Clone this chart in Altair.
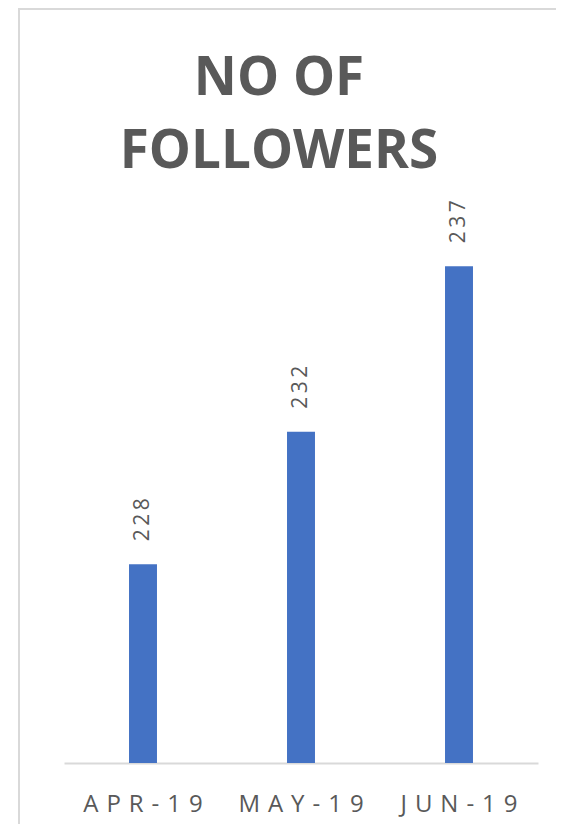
import altair as alt
import pandas as pd

months = ["APR-19", "MAY-19", "JUN-19"]
followers = [228, 232, 237]

Y_MIN, Y_MAX = 222, 238
BLUE = "#4472C4"
GREY = "#595959"
FRAME = "#D9D9D9"

df = pd.DataFrame({"month": months, "value": followers})

base = alt.Chart(df).encode(
    x=alt.X(
        "month:N",
        sort=months,
        title=None,
        scale=alt.Scale(paddingInner=0.823, paddingOuter=0.4115),
        axis=alt.Axis(
            labelAngle=0,
            labelFont="Open Sans",
            labelFontSize=24,
            labelColor=GREY,
            labelBaseline="alphabetic",
            labelPadding=48,
            ticks=False,
            tickSize=0,
            domainColor=FRAME,
            domainWidth=2,
            labelExpr="join(split(datum.label, ''), '\u2009\u2009')",
        ),
    ),
)

bars = base.mark_bar(color=BLUE).encode(
    y=alt.Y(
        "value:Q",
        scale=alt.Scale(domain=[Y_MIN, Y_MAX], zero=False, nice=False),
        axis=None,
    ),
    y2=alt.datum(Y_MIN),
)

labels = base.transform_calculate(
    lbl="join(split(toString(datum.value), ''), '\u2009')"
).mark_text(
    angle=270,
    align="left",
    baseline="middle",
    dx=23,
    font="Open Sans",
    fontSize=21,
    color=GREY,
).encode(
    y=alt.Y("value:Q"),
    text="lbl:N",
)

frame_data = alt.Data(values=[{"k": 1}])
frame_top = alt.Chart(frame_data).mark_rect(color=FRAME, strokeWidth=0).encode(
    x=alt.value(-46), x2=alt.value(620), y=alt.value(-225), y2=alt.value(-223)
)
frame_left = alt.Chart(frame_data).mark_rect(color=FRAME, strokeWidth=0).encode(
    x=alt.value(-46), x2=alt.value(-44), y=alt.value(-225), y2=alt.value(591)
)

chart = alt.layer(frame_top, frame_left, bars, labels).properties(
    width=474,
    height=530,
    autosize=alt.AutoSizeParams(type="none"),
    padding={"left": 56, "top": 225, "right": 18, "bottom": 66},
    title=alt.TitleParams(
        text=["NO OF", "FOLLOWERS"],
        font="Open Sans",
        fontSize=53,
        fontWeight="bold",
        color=GREY,
        anchor="middle",
        baseline="alphabetic",
        lineHeight=73,
        dx=-22,
        offset=-213,
    ),
).configure_view(stroke=None)

chart.save("out.html", embed_options={"renderer": "svg", "actions": False})
